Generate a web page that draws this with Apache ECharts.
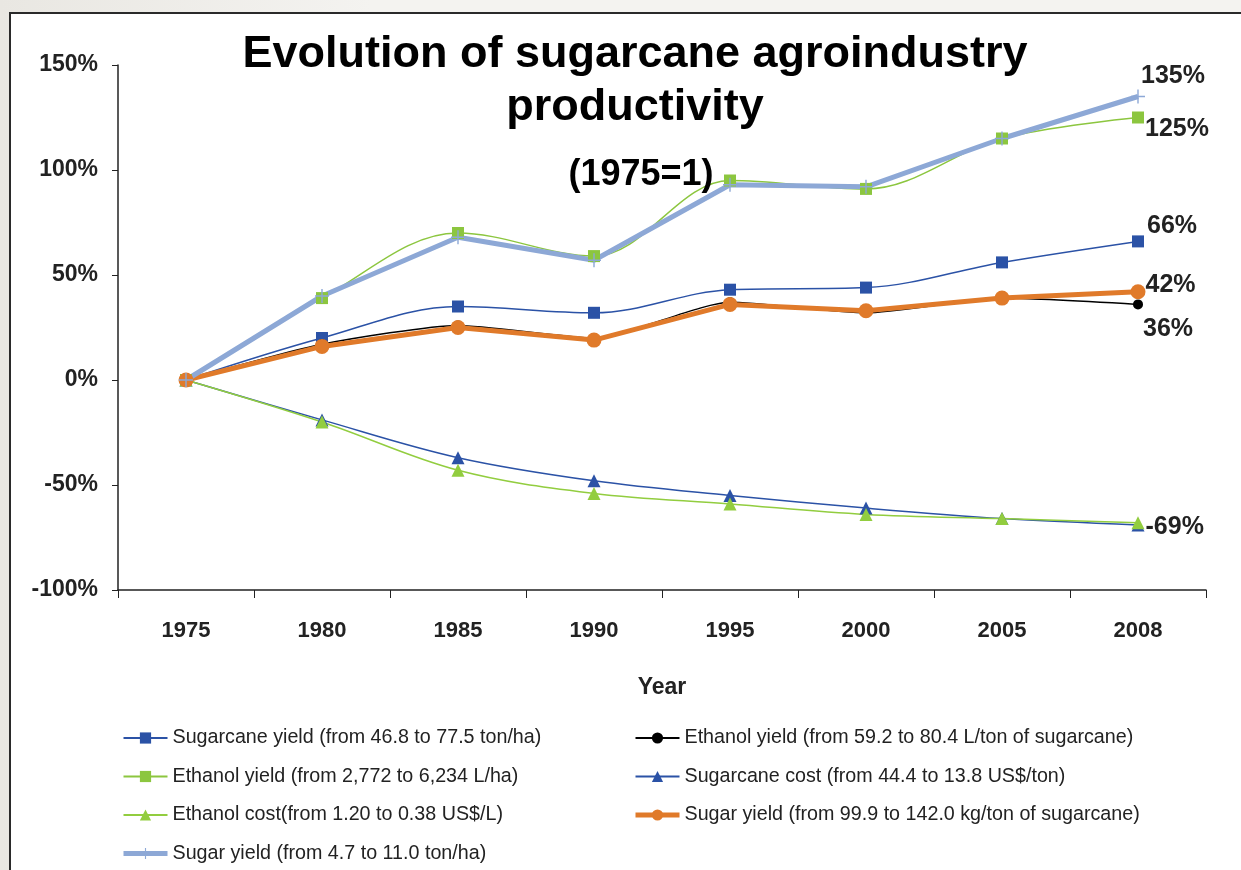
<!DOCTYPE html>
<html>
<head>
<meta charset="utf-8">
<title>Evolution of sugarcane agroindustry productivity</title>
<script src="https://cdn.jsdelivr.net/npm/echarts@6/dist/echarts.min.js"></script>
<style>
  body { margin: 0; background: linear-gradient(90deg, #e9e7e2, #f4f3f0 30%); width: 1241px; height: 870px; overflow: hidden; }
  .frame { position: absolute; left: 9px; top: 12px; right: -10px; bottom: -10px; background: #fff; border-left: 2px solid #2a2a2a; border-top: 2px solid #2a2a2a; }
  #chart { position: absolute; left: 0; top: 0; width: 1241px; height: 870px; }
</style>
</head>
<body>
<div class="frame"></div>
<div id="chart"></div>
<script>
// years on the x axis
const years = ['1975', '1980', '1985', '1990', '1995', '2000', '2005', '2008'];

// % change since 1975
const sugarcaneYield = [0, 20, 35, 32, 43, 44, 56, 66];
const ethanolYieldTon = [0, 17, 26, 20, 37, 32, 39, 36];
const ethanolYieldHa = [0, 39, 70, 59, 95, 91, 115, 125];
const sugarcaneCost = [0, -19, -37, -48, -55, -61, -66, -69];
const ethanolCost = [0, -20, -43, -54, -59, -64, -66, -68];
const sugarYieldTon = [0, 16, 25, 19, 36, 33, 39, 42];
const sugarYieldHa = [0, 40, 68, 57, 93, 92, 115, 135];

const names = [
  'Sugarcane yield (from 46.8 to 77.5 ton/ha)',
  'Ethanol yield (from 59.2 to 80.4 L/ton of sugarcane)',
  'Ethanol yield (from 2,772 to 6,234 L/ha)',
  'Sugarcane cost (from 44.4 to 13.8 US$/ton)',
  'Ethanol cost(from 1.20 to 0.38 US$/L)',
  'Sugar yield (from 99.9 to 142.0 kg/ton of sugarcane)',
  'Sugar yield (from 4.7 to 11.0 ton/ha)'
];

const plusIcon = 'path://M-1,-10L1,-10L1,-1L10,-1L10,1L1,1L1,10L-1,10L-1,1L-10,1L-10,-1L-1,-1Z';

// put a value label on the last point only
const withEndLabel = (values, offset) => values.map((v, i) => i === values.length - 1 && offset
  ? {
      value: v,
      label: {
        show: true,
        position: 'right',
        offset: offset,
        formatter: '{c}%',
        fontSize: 25,
        fontWeight: 'bold',
        color: '#222',
        fontFamily: 'Liberation Sans'
      }
    }
  : v);

const makeLine = (name, values, color, opts) => Object.assign({
  name: name,
  type: 'line',
  data: values,
  smooth: 0.35,
  symbolSize: 11,
  lineStyle: { color: color, width: 1.5 },
  itemStyle: { color: color },
  emphasis: { disabled: true }
}, opts);

const chart = echarts.init(document.getElementById('chart'), null, { renderer: 'canvas' });

const legendText = { fontSize: 19.7, color: '#222', fontFamily: 'Liberation Sans', lineHeight: 20 };
const thick = { lineStyle: { width: 5 } };

const legendBase = {
  orient: 'vertical',
  top: 728,
  padding: 0,
  itemWidth: 44,
  itemHeight: 14,
  itemGap: 18.5,
  textStyle: legendText
};

const option = {
  animation: false,
  textStyle: { fontFamily: 'Liberation Sans' },
  title: [
    {
      text: 'Evolution of sugarcane agroindustry\nproductivity',
      left: 630,
      textAlign: 'center',
      top: 23,
      textStyle: { fontSize: 45, fontWeight: 'bold', color: '#000', lineHeight: 53, fontFamily: 'Liberation Sans' }
    },
    {
      text: '(1975=1)',
      left: 636,
      textAlign: 'center',
      top: 152,
      textStyle: { fontSize: 36, fontWeight: 'bold', color: '#000', fontFamily: 'Liberation Sans' }
    }
  ],
  grid: { left: 118, right: 35, top: 65, bottom: 280 },
  legend: [
    Object.assign({}, legendBase, {
      left: 121,
      data: [names[0], names[2], names[4], Object.assign({ name: names[6] }, thick)]
    }),
    Object.assign({}, legendBase, {
      left: 633,
      data: [names[1], names[3], Object.assign({ name: names[5] }, thick)]
    })
  ],
  xAxis: {
    type: 'category',
    data: years,
    boundaryGap: true,
    name: 'Year',
    nameLocation: 'middle',
    nameGap: 86,
    nameTextStyle: { fontSize: 23, fontWeight: 'bold', color: '#222' },
    axisLine: { onZero: false, lineStyle: { color: '#222', width: 1.5 } },
    axisTick: { show: true, length: 8, lineStyle: { color: '#222' } },
    axisLabel: { fontSize: 22, fontWeight: 'bold', color: '#222', margin: 30 }
  },
  yAxis: {
    type: 'value',
    min: -100,
    max: 150,
    interval: 50,
    axisLine: { show: true, lineStyle: { color: '#222', width: 1.5 } },
    axisTick: { show: true, length: 6, lineStyle: { color: '#222' } },
    splitLine: { show: false },
    axisLabel: { formatter: '{value}%', fontSize: 23, fontWeight: 'bold', color: '#222', margin: 20 }
  },
  series: [
    makeLine(names[0], withEndLabel(sugarcaneYield, [-2, -15]), '#2B52A6', { symbol: 'rect', symbolSize: 12 }),
    makeLine(names[1], withEndLabel(ethanolYieldTon, [-5, 25]), '#000', { symbol: 'circle', symbolSize: 10, smooth: 0.2 }),
    makeLine(names[2], withEndLabel(ethanolYieldHa, [-4, 12]), '#8CC63F', { symbol: 'rect', symbolSize: 12 }),
    makeLine(names[3], withEndLabel(sugarcaneCost, [-4, 2]), '#2B52A6', { symbol: 'triangle', symbolSize: 13 }),
    makeLine(names[4], ethanolCost, '#92CD3F', { symbol: 'triangle', symbolSize: 13 }),
    makeLine(names[5], withEndLabel(sugarYieldTon, [-5, -7]), '#E07A2A', {
      symbol: 'circle', symbolSize: 15, smooth: false, lineStyle: { color: '#E07A2A', width: 5 }
    }),
    makeLine(names[6], withEndLabel(sugarYieldHa, [-9, -20]), '#8DA8D6', {
      symbol: plusIcon, symbolSize: 14, smooth: false, lineStyle: { color: '#8DA8D6', width: 5 }
    })
  ]
};

chart.setOption(option);
</script>
</body>
</html>
